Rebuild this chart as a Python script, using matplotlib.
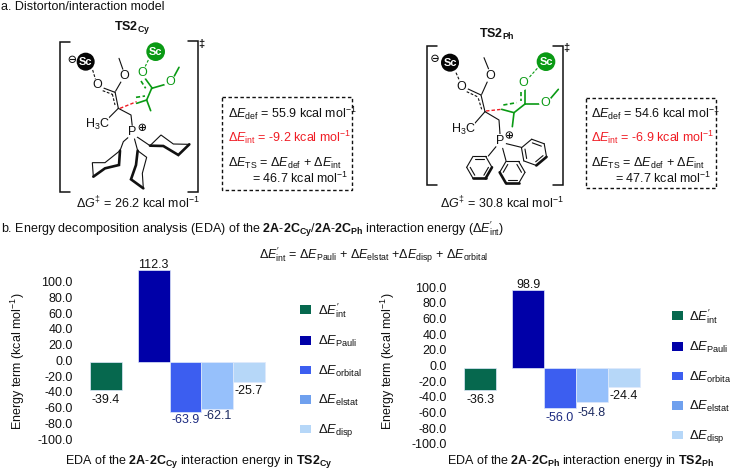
import numpy as np
import matplotlib
matplotlib.use("Agg")
import matplotlib.pyplot as plt
from matplotlib.patches import Circle, Rectangle, Patch
from matplotlib.transforms import ScaledTranslation

plt.rcParams['font.family'] = ['Liberation Sans', 'DejaVu Sans']
plt.rcParams['mathtext.fontset'] = 'custom'
plt.rcParams['mathtext.rm'] = 'Liberation Sans'
plt.rcParams['mathtext.it'] = 'Liberation Sans:italic'
plt.rcParams['mathtext.bf'] = 'Liberation Sans:bold'
plt.rcParams['mathtext.default'] = 'rm'

# ---- data ----
term_labels = [r"$\Delta\mathit{E}^{\prime}_{\mathrm{int}}$", r"$\Delta\mathit{E}_{\mathrm{Pauli}}$",
               r"$\Delta\mathit{E}_{\mathrm{orbital}}$", r"$\Delta\mathit{E}_{\mathrm{elstat}}$",
               r"$\Delta\mathit{E}_{\mathrm{disp}}$"]
cy_bar_heights = [-35.0, 116.5, -63.9, -59.3, -25.0]
ph_bar_heights = [-28.0, 99.0, -51.0, -43.6, -24.6]
cy_value_labels = ['-39.4', '112.3', '-63.9', '-62.1', '-25.7']
ph_value_labels = ['-36.3', '98.9', '-56.0', '-54.8', '-24.4']
y_ticks = [100, 80, 60, 40, 20, 0, -20, -40, -60, -80, -100]
y_tick_labels = ['100.0', '80.0', '60.0', '40.0', '20.0', '0.0', '-20.0', '-40.0', '-60.0', '-80.0', '-100.0']

bar_colors = ['#06684e', '#0000a8', '#3c5ef0', '#96c0fb', '#b6d7f8']
legend_colors = ['#06684e', '#0000a8', '#3c5ef0', '#6fa0ee', '#b6d7f8']
label_colors = ['#111111', '#111111', '#1c2a80', '#1c2a60', '#111111']
x_slots = [0, 1.5, 2.5, 3.5, 4.5]

W, H = 730, 471
FS = 9.0
GREEN = '#0a9a14'
RED = '#f01c24'
fig = plt.figure(figsize=(W / 100, H / 100), dpi=100)

# ---- pixel overlay for diagrams and text ----
ov = fig.add_axes([0, 0, 1, 1], zorder=5)
ov.set_xlim(0, W)
ov.set_ylim(H, 0)
ov.axis('off')
ov.patch.set_alpha(0)


def txt(x, y, s, color='#111111', fs=FS, ha='left', **kw):
    ov.text(x, y, s, color=color, fontsize=fs, ha=ha, va='center', **kw)


def make_tools(ox, oy):
    def P(p):
        return (ox + p[0] / 3, oy + p[1] / 3)

    def line(pts, color='#111111', lw=0.8, ls='-'):
        q = [P(p) for p in pts]
        ov.plot([a[0] for a in q], [a[1] for a in q], color=color, lw=lw, ls=ls,
                solid_capstyle='round', solid_joinstyle='miter')

    def atom(p, s, color='#111111', fs=9.0):
        x, y = P(p)
        ov.text(x, y, s, color=color, fontsize=fs, ha='center', va='center',
                bbox=dict(boxstyle='circle,pad=0.05', fc='white', ec='none'), zorder=4)

    def sc(p, color, r=27):
        x, y = P(p)
        ov.add_patch(Circle((x, y), r / 3, fc=color, ec='none', zorder=3))
        ov.text(x, y, 'Sc', color='white', fontsize=8.0, fontweight='bold', ha='center', va='center', zorder=4)

    def charge(p, s):
        x, y = P(p)
        ov.add_patch(Circle((x, y), 3.2, fc='white', ec='#111111', lw=0.7, zorder=3))
        d = 2.0
        ov.plot([x - d, x + d], [y, y], color='#111111', lw=0.8, zorder=4)
        if s == '+':
            ov.plot([x, x], [y - d, y + d], color='#111111', lw=0.8, zorder=4)

    return P, line, atom, sc, charge


DASH = (0, (2.5, 1.5))

# ---- TS2Cy ----
P, line, atom, sc, charge = make_tools(55, 20)
line([(45, 67), (15, 67), (15, 515), (45, 515)], lw=1.1)
line([(400, 62), (428, 62), (428, 515), (400, 515)], lw=1.1)
txt(*P((438, 73)), '‡', ha='center', fs=8, fontweight='bold')
line([(113, 150), (122, 180)], ls=DASH)
line([(143, 203), (180, 217)]); line([(143, 212), (172, 223)], ls=DASH)
line([(180, 215), (190, 265)]); line([(172, 222), (180, 255)], ls=DASH)
line([(182, 213), (200, 182)]); line([(205, 152), (192, 115)])
line([(190, 265), (160, 295)])
line([(190, 265), (228, 285), (232, 320)])
line([(195, 265), (245, 245)], color=RED, lw=1.0, ls=DASH)
line([(280, 120), (268, 145)], color=GREEN, ls=DASH)
line([(268, 172), (292, 205)], color=GREEN, lw=1.2); line([(258, 183), (272, 205)], color=GREEN, lw=1.2, ls=DASH)
line([(290, 205), (335, 192)], color=GREEN, lw=1.2)
line([(358, 168), (372, 142)], color=GREEN, lw=1.2)
line([(290, 205), (275, 240), (245, 250)], color=GREEN, lw=1.2)
line([(243, 232), (270, 228)], color=GREEN, lw=1.2, ls=DASH)
line([(275, 240), (287, 272)], color=GREEN, lw=1.2)
# cyclohexyl rings
line([(245, 350), (285, 377)])
line([(285, 377), (318, 345), (355, 372), (403, 373)])
line([(403, 373), (370, 405), (325, 378), (285, 377)], lw=1.9)
line([(220, 352), (205, 365), (195, 392)])
line([(195, 392), (150, 428), (112, 428), (115, 470)])
line([(115, 470), (150, 445), (192, 435), (195, 392)], lw=1.9)
line([(238, 355), (248, 392)])
line([(248, 392), (275, 412), (262, 460), (265, 505)])
line([(248, 392), (243, 435), (228, 478), (265, 505)], lw=1.9)
atom((128, 196), 'O'); atom((208, 168), 'O')
atom((128, 312), r'H$_3$C'); atom((232, 337), 'P')
atom((262, 158), 'O', color=GREEN); atom((347, 187), 'O', color=GREEN)
sc((92, 125), '#050505'); sc((302, 95), GREEN, r=28)
charge((52, 118), '-'); charge((262, 322), '+')

# ---- TS2Ph ----
P, line, atom, sc, charge = make_tools(420, 30)
line([(50, 48), (20, 48), (20, 465), (50, 465)], lw=1.1)
line([(400, 48), (428, 48), (428, 465), (400, 465)], lw=1.1)
txt(*P((438, 55)), '‡', ha='center', fs=8, fontweight='bold')
line([(108, 128), (120, 155)], ls=DASH)
line([(140, 175), (183, 195)]); line([(140, 185), (172, 200)], ls=DASH)
line([(183, 195), (195, 245)]); line([(175, 205), (185, 238)], ls=DASH)
line([(185, 193), (203, 153)]); line([(207, 120), (192, 83)])
line([(195, 245), (160, 285)])
line([(195, 245), (237, 270), (240, 312)])
line([(198, 243), (245, 238)], color=RED, lw=1.0, ls=DASH)
line([(352, 115), (325, 145)], color=GREEN, ls=DASH)
line([(315, 178), (315, 222)], color=GREEN, lw=1.2); line([(303, 185), (303, 212)], color=GREEN, lw=1.2, ls=DASH)
line([(315, 222), (362, 222)], color=GREEN, lw=1.2)
line([(392, 205), (415, 178)], color=GREEN, lw=1.2)
line([(315, 222), (282, 248), (245, 238)], color=GREEN, lw=1.2)
line([(250, 225), (290, 218)], color=GREEN, lw=1.2, ls=DASH)
line([(282, 248), (277, 290)], color=GREEN, lw=1.2)


def phenyl(c, r, rot, bold, attach):
    a = np.deg2rad(rot + np.arange(6) * 60)
    v = [(c[0] + r * np.cos(t), c[1] + r * np.sin(t)) for t in a]
    for i in range(6):
        line([v[i], v[(i + 1) % 6]], lw=1.9 if i in bold else 0.8)
    for i in (0, 2, 4):
        p, q = np.array(v[i]), np.array(v[(i + 1) % 6])
        cc = np.array(c)
        p2, q2 = cc + (p - cc) * 0.72, cc + (q - cc) * 0.72
        line([tuple(p2), tuple(q2)])
    line(attach)


phenyl((342, 367), 40, 20, {0}, [(255, 340), (304, 352)])
phenyl((178, 412), 38, 0, {0, 1}, [(228, 350), (205, 378)])
phenyl((277, 427), 38, 60, {0, 1}, [(248, 355), (258, 392)])
atom((125, 170), 'O'); atom((210, 137), 'O')
atom((130, 297), r'H$_3$C'); atom((240, 332), 'P')
atom((310, 160), 'O', color=GREEN); atom((377, 218), 'O', color=GREEN)
sc((90, 98), '#050505'); sc((378, 95), GREEN, r=28)
charge((45, 85), '-'); charge((268, 315), '+')

# ---- text blocks ----
txt(1, 7, 'a. Distorton/interaction model')
txt(132, 28, r'$\mathbf{TS2_{Cy}}$', ha='center')
txt(497, 34, r'$\mathbf{TS2_{Ph}}$', ha='center')
txt(76, 203, r'$\Delta\mathit{G}^{\ddag}$ = 26.2 kcal mol$^{-1}$')
txt(440, 203, r'$\Delta\mathit{G}^{\ddag}$ = 30.8 kcal mol$^{-1}$')


def box(x0, x1, y0, y1, x_text, x_ind, d, i, tot):
    ov.add_patch(Rectangle((x0, y0), x1 - x0, y1 - y0, fc='none', ec='#111111', lw=1.0, ls=(0, (2.5, 1.8))))
    txt(x_text, 113, r'$\Delta\mathit{E}_{\mathrm{def}}$ = ' + d + ' kcal mol$^{-1}$')
    txt(x_text, 137, r'$\Delta\mathit{E}_{\mathrm{int}}$ = ' + i + ' kcal mol$^{-1}$', color=RED)
    txt(x_text, 163, r'$\Delta\mathit{E}_{\mathrm{TS}}$ = $\Delta\mathit{E}_{\mathrm{def}}$ + $\Delta\mathit{E}_{\mathrm{int}}$')
    txt(x_ind, 178, '= ' + tot + ' kcal mol$^{-1}$')


box(222, 352, 97, 190, 228, 252, '55.9', '-9.2', '46.7')
box(586, 716, 98, 188, 591, 615, '54.6', '-6.9', '47.7')

txt(1, 229, r'b. Energy decomposition analysis (EDA) of the $\mathbf{2A}$-$\mathbf{2C_{Cy}}$/$\mathbf{2A}$-$\mathbf{2C_{Ph}}$'
            r" interaction energy ($\Delta\mathit{E}^{\prime}_{\mathrm{int}}$)")
txt(259, 255, r"$\Delta\mathit{E}^{\prime}_{\mathrm{int}}$ = $\Delta\mathit{E}_{\mathrm{Pauli}}$ + $\Delta\mathit{E}_{\mathrm{elstat}}$"
              r" +$\Delta\mathit{E}_{\mathrm{disp}}$ + $\Delta\mathit{E}_{\mathrm{orbital}}$")
txt(65, 461, r'EDA of the $\mathbf{2A}$-$\mathbf{2C_{Cy}}$ interaction energy in $\mathbf{TS2_{Cy}}$')
txt(447, 461, r'EDA of the $\mathbf{2A}$-$\mathbf{2C_{Ph}}$ interaction energy in $\mathbf{TS2_{Ph}}$')


# ---- bar charts ----
def panel(x_first_left, bar_px, y100, ym100, zero_px, heights, labels, offsets, ylab_x, ylab_y, leg_x, leg_y):
    scale = (ym100 - y100) / 200
    x0_px, x1_px = x_first_left - 16, x_first_left + 6.0 * bar_px
    ylo, yhi = -125, 125
    y_hi_px = zero_px - yhi * scale
    y_lo_px = zero_px - ylo * scale
    ax = fig.add_axes([x0_px / W, 1 - y_lo_px / H, (x1_px - x0_px) / W, (y_lo_px - y_hi_px) / H], zorder=2)
    ax.patch.set_alpha(0)
    ax.set_xlim(-0.5 - 16 / bar_px, -0.5 + 6.0)
    ax.set_ylim(ylo, yhi)
    ax.bar(x_slots, heights, width=1.0, color=bar_colors, edgecolor='#dfe9fb', linewidth=0.5)
    for sp in ax.spines.values():
        sp.set_visible(False)
    ax.set_xticks([])
    ax.set_yticks(y_ticks)
    ax.set_yticklabels(y_tick_labels, fontsize=FS, color='#111111')
    ax.tick_params(axis='y', length=0, pad=1)
    shift = (zero_px - (y100 + ym100) / 2) / 100
    for lab in ax.get_yticklabels():
        lab.set_transform(lab.get_transform() + ScaledTranslation(0, shift, fig.dpi_scale_trans))
    for x, h, s, off, c in zip(x_slots, heights, labels, offsets, label_colors):
        ax.annotate(s, (x, h), xytext=(0, -off * 0.72), textcoords='offset points',
                    ha='center', va='center', fontsize=FS, color=c, annotation_clip=False)
    txt(ylab_x, ylab_y, 'Energy term (kcal mol$^{-1}$)', ha='center', rotation=90)
    handles = [Patch(fc=c, ec='none') for c in legend_colors]
    ax.legend(handles, term_labels, loc='upper left', bbox_to_anchor=(leg_x / W, 1 - leg_y / H),
              bbox_transform=fig.transFigure, frameon=False, fontsize=FS + 0.4, handlelength=0.85, handleheight=0.6,
              handletextpad=0.5, labelspacing=1.1, borderpad=0, borderaxespad=0, labelcolor='#111111')
    return ax


panel(90, 31.8, 281.7, 439.0, 362.0, cy_bar_heights, cy_value_labels, [10, -5.5, 8, 7.3, 9], 18, 361, 300, 301)
panel(464.3, 31.9, 287.0, 443.7, 367.7, ph_bar_heights, ph_value_labels, [10, -5, 10, 11, 9], 388, 361, 671.7, 307)

fig.savefig('out.png', dpi=100)
